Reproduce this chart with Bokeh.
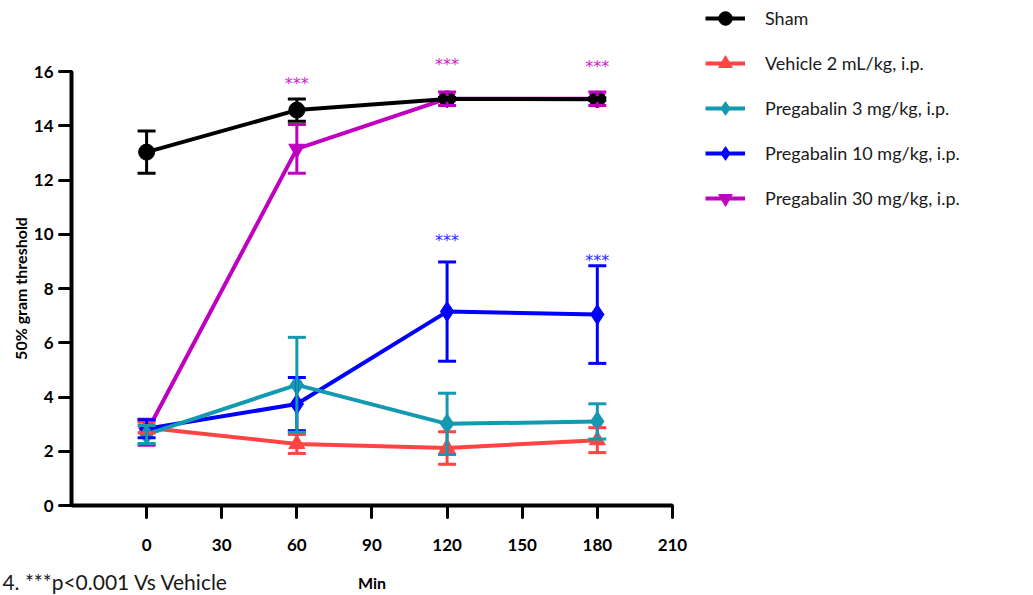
from bokeh.plotting import figure
from bokeh.models import (Range1d, FixedTicker, Whisker, TeeHead, ColumnDataSource,
                          Legend, LegendItem, Label)
from bokeh.core.properties import value
from bokeh.embed import file_html
from bokeh.resources import INLINE

# ---------------- data ----------------
minutes = [0, 60, 120, 180]

series_names = ["Sham", "Vehicle 2 mL/kg, i.p.", "Pregabalin 3 mg/kg, i.p.",
                "Pregabalin 10 mg/kg, i.p.", "Pregabalin 30 mg/kg, i.p."]

sham_mean = [13.03, 14.58, 14.99, 14.98]
sham_err = [0.78, 0.41, 0.05, 0.05]
vehicle_mean = [2.87, 2.27, 2.12, 2.41]
vehicle_err = [0.20, 0.35, 0.60, 0.46]
preg3_mean = [2.62, 4.45, 3.01, 3.10]
preg3_err = [0.33, 1.75, 1.13, 0.65]
preg10_mean = [2.83, 3.74, 7.15, 7.04]
preg10_err = [0.33, 0.98, 1.83, 1.80]
preg30_mean = [2.70, 13.15, 15.00, 15.00]
preg30_err = [0.48, 0.90, 0.25, 0.25]

sig_x = [60, 120, 180, 120, 180]
sig_y = [15.56, 16.25, 16.20, 9.78, 9.04]
sig_text = ["***", "***", "***", "***", "***"]
sig_group = ["p30", "p30", "p30", "p10", "p10"]

x_ticks = [0, 30, 60, 90, 120, 150, 180, 210]
y_ticks = [0, 2, 4, 6, 8, 10, 12, 14, 16]
x_label = "Min"
y_label = "50% gram threshold"
caption = "4. ***p<0.001 Vs Vehicle"

# ---------------- styles ----------------
colors = {"sham": "#000000", "veh": "#FF4444", "p3": "#1399B0",
          "p10": "#0000FF", "p30": "#C000C0"}
sig_colors = {"p30": "#CC22CC", "p10": "#2A2AFF"}
FONT = "Lato"

# the frame covers the whole canvas; axes are pinned at x=-30 / y=0
p = figure(width=1033, height=595, output_backend="svg", toolbar_location=None,
           x_range=Range1d(-58.35, 354.2), y_range=Range1d(-3.318, 18.62),
           min_border_left=0, min_border_right=0, min_border_top=0,
           min_border_bottom=0)
p.outline_line_color = None
p.grid.visible = False
p.background_fill_color = "white"
p.border_fill_color = "white"

for ax, ticks, bounds in ((p.xaxis, x_ticks, (-30, 210)), (p.yaxis, y_ticks, (0, 16))):
    ax.bounds = bounds
    ax.ticker = FixedTicker(ticks=ticks)
    ax.minor_tick_line_color = None
    ax.axis_line_width = 4
    ax.axis_line_color = "black"
    ax.major_tick_line_width = 3
    ax.major_tick_line_cap = "round"
    ax.major_tick_out = 12
    ax.major_tick_in = 0
    ax.major_label_text_font = FONT
    ax.major_label_text_font_style = "bold"
    ax.major_label_text_font_size = "17px"
    ax.major_label_text_color = "black"
    ax.axis_label_text_font = FONT
    ax.axis_label_text_font_style = "bold"
    ax.axis_label_text_font_size = "16px"
    ax.axis_label_text_color = "black"

p.xaxis.fixed_location = 0
p.yaxis.fixed_location = -30
p.xaxis.axis_label = x_label
p.yaxis.axis_label = y_label
p.xaxis.major_label_standoff = 21
p.xaxis.axis_label_standoff = 19
p.yaxis.major_label_standoff = 6
p.yaxis.axis_label_standoff = 1

series = [
    ("sham", sham_mean, sham_err, "circle", 16),
    ("veh", vehicle_mean, vehicle_err, "triangle", 16),
    ("p3", preg3_mean, preg3_err, "diamond", 20),
    ("p10", preg10_mean, preg10_err, "diamond", 20),
    ("p30", preg30_mean, preg30_err, "inverted_triangle", 16),
]
draw_order = ["p30", "veh", "p10", "p3", "sham"]

renderers = {}
for key in draw_order:
    _, mean, err, marker, msize = next(s for s in series if s[0] == key)
    c = colors[key]
    src = ColumnDataSource(dict(x=minutes, y=mean,
                                upper=[m + e for m, e in zip(mean, err)],
                                lower=[m - e for m, e in zip(mean, err)]))
    w = Whisker(base="x", upper="upper", lower="lower", source=src,
                line_color=c, line_width=3, level="glyph",
                upper_head=TeeHead(size=18, line_color=c, line_width=3),
                lower_head=TeeHead(size=18, line_color=c, line_width=3))
    p.add_layout(w)
    lr = p.line("x", "y", source=src, line_color=c, line_width=4)
    sr = p.scatter("x", "y", source=src, marker=marker, size=msize,
                   fill_color=c, line_color=c)
    renderers[key] = (lr, sr)

sig_src = ColumnDataSource(dict(x=sig_x, y=sig_y, text=sig_text,
                                color=[sig_colors[g] for g in sig_group]))
p.text("x", "y", text="text", source=sig_src, text_color="color",
       text_font=value("DejaVu Sans"), text_font_size="16px", text_align="center",
       text_baseline="middle")

keys = ["sham", "veh", "p3", "p10", "p30"]
items = [LegendItem(label=name, renderers=list(renderers[k]))
         for name, k in zip(series_names, keys)]
legend = Legend(items=items, location=(705, 380), orientation="vertical",
                glyph_width=40, glyph_height=34, label_height=34, spacing=11,
                label_standoff=20, padding=0, margin=0,
                border_line_color=None, background_fill_alpha=0,
                label_text_font=FONT, label_text_font_size="18px",
                label_text_color="#1a1a1a", label_text_baseline="middle")
p.add_layout(legend)

# caption fragment at the bottom-left
cap = Label(x=-57.6, y=-3.25, x_units="data", y_units="data", text=caption,
            text_font=FONT, text_font_size="21px", text_color="#1a1a1a",
            text_baseline="bottom", text_align="left", level="overlay")
p.add_layout(cap)

open("out.html", "w").write(file_html(p, INLINE))
